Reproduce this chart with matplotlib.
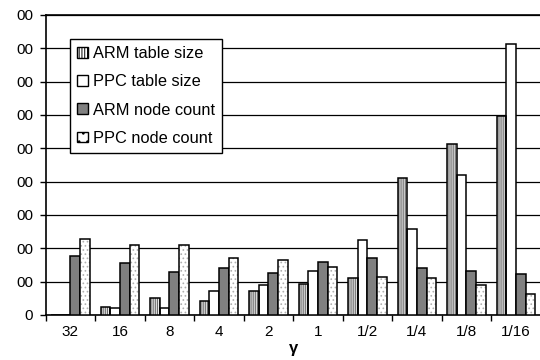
import matplotlib
matplotlib.use("Agg")
import matplotlib.pyplot as plt
import numpy as np
from matplotlib.patches import Patch

plt.rcParams['font.family'] = ['Liberation Sans', 'DejaVu Sans']
plt.rcParams['hatch.linewidth'] = 0.7

categories = ['32', '16', '8', '4', '2', '1', '1/2', '1/4', '1/8', '1/16']
arm_table = [0, 25, 51, 42, 73, 92, 110, 410, 513, 596]
ppc_table = [0, 20, 20, 73, 91, 132, 226, 257, 420, 814]
arm_node = [178, 155, 128, 140, 127, 158, 172, 140, 132, 122]
ppc_node = [227, 209, 209, 172, 164, 145, 114, 110, 91, 64]
y_ticks = [0, 100, 200, 300, 400, 500, 600, 700, 800, 900]
y_tick_labels = ['0', '00', '00', '00', '00', '00', '00', '00', '00', '00']

fig = plt.figure(figsize=(5.4, 3.6), dpi=100)
ax = fig.add_axes([45.7 / 540, 45 / 360, 495 / 540, 300 / 360])

x = np.arange(len(categories))
w = 0.195
lw = 1.1

# ARM table size: vertical stripes
ax.bar(x - 1.5 * w, arm_table, w, color='white', edgecolor='#444444', hatch='||||||||', linewidth=0, zorder=3)
ax.bar(x - 1.5 * w, arm_table, w, color='none', edgecolor='black', linewidth=lw, zorder=4)
# PPC table size: white
ax.bar(x - 0.5 * w, ppc_table, w, color='white', edgecolor='black', linewidth=lw, zorder=3)
# ARM node count: gray
ax.bar(x + 0.5 * w, arm_node, w, color='#808080', edgecolor='black', linewidth=lw, zorder=3)
# PPC node count: dotted
ax.bar(x + 1.5 * w, ppc_node, w, color='white', edgecolor='#b0b0b0', hatch='....', linewidth=0, zorder=3)
ax.bar(x + 1.5 * w, ppc_node, w, color='none', edgecolor='black', linewidth=lw, zorder=4)

ax.set_xlim(-0.5, len(categories) - 0.5)
ax.set_ylim(0, 900)
ax.set_yticks(y_ticks)
ax.set_yticklabels(y_tick_labels, fontsize=11)
ax.yaxis.grid(True, color='black', linewidth=0.9)
ax.set_axisbelow(True)

ax.set_xticks(x)
ax.set_xticklabels(categories, fontsize=11)
ax.tick_params(axis='x', which='major', length=0, pad=7)
ax.set_xticks(np.arange(len(categories) + 1) - 0.5, minor=True)
ax.tick_params(axis='x', which='minor', length=4, width=1, direction='out')
ax.tick_params(axis='y', length=4, width=1, direction='out', pad=5)

for s in ['left', 'bottom', 'top']:
    ax.spines[s].set_linewidth(1.2)
    ax.spines[s].set_color('black')
ax.spines['right'].set_visible(False)

ax.set_xlabel('γ', fontsize=12, fontweight='bold', labelpad=2)

handles = [
    Patch(facecolor='white', edgecolor='black', hatch='||||||', linewidth=1),
    Patch(facecolor='white', edgecolor='black', linewidth=1),
    Patch(facecolor='#808080', edgecolor='black', linewidth=1),
    Patch(facecolor='white', edgecolor='black', hatch='..', linewidth=1),
]
labels = ['ARM table size', 'PPC table size', 'ARM node count', 'PPC node count']
leg = ax.legend(handles, labels, loc='upper left', bbox_to_anchor=(0.049, 0.92),
                fontsize=11.8, frameon=True, fancybox=False, framealpha=1,
                edgecolor='black', handlelength=0.63, handleheight=0.63,
                handletextpad=0.3, labelspacing=0.8, borderpad=0.45,
                borderaxespad=0)
leg.get_frame().set_linewidth(1.0)
leg.set_zorder(10)

fig.savefig('out.png', dpi=100)
